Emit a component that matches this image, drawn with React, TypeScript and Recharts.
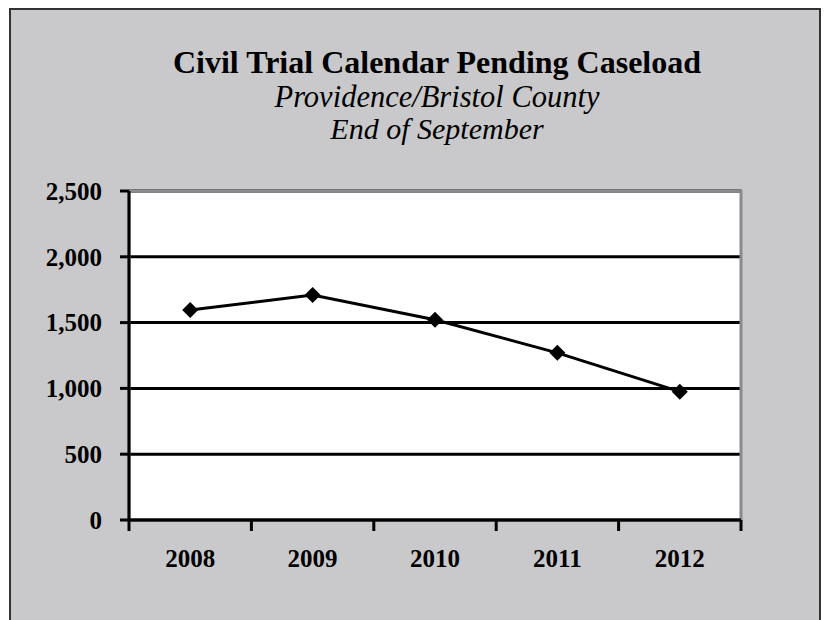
import React from 'react';
import { LineChart, Line, XAxis, YAxis, CartesianGrid, ReferenceArea } from 'recharts';

const years = ['2008', '2009', '2010', '2011', '2012'];
const caseload = [1596, 1710, 1522, 1270, 975];
const yTicks = [0, 500, 1000, 1500, 2000, 2500];

const data = years.map((year, i) => ({ year, value: caseload[i] }));

const font = '"Liberation Serif", "Times New Roman", serif';
const X_TICK = 11;

function Diamond(props: any) {
  const { cx, cy } = props;
  if (cx == null || cy == null) return null;
  const r = 8;
  return (
    <polygon
      points={`${cx},${cy - r} ${cx + r},${cy} ${cx},${cy + r} ${cx - r},${cy}`}
      fill="#000"
      stroke="none"
    />
  );
}

// category labels in the middle of each band, tick marks on the band edges (Excel style)
function YearTick(props: any) {
  const { x, y, payload, width, visibleTicksCount } = props;
  const half = width / visibleTicksCount / 2;
  const last = payload.index === visibleTicksCount - 1;
  return (
    <g>
      <line x1={x - half} x2={x - half} y1={y - X_TICK} y2={y} stroke="#000" strokeWidth={3} />
      {last && <line x1={x + half} x2={x + half} y1={y - X_TICK} y2={y} stroke="#000" strokeWidth={3} />}
      <text x={x} y={y + 18} dy="0.71em" textAnchor="middle" fill="#000" fontSize={25} fontWeight="bold" fontFamily={font}>
        {payload.value}
      </text>
    </g>
  );
}

export default function App() {
  return (
    <div style={{ position: 'absolute', left: 0, top: 0, width: 824, height: 620, overflow: 'hidden', background: '#fff' }}>
      <div
        style={{
          position: 'absolute',
          left: 9,
          top: 8,
          width: 808,
          height: 620,
          background: '#c9c9cb',
          borderTop: '2px solid #333',
          borderLeft: '2px solid #333',
          borderRight: '2px solid #333',
        }}
      />
      <div style={{ position: 'absolute', left: 0, top: 0 }}>
        <LineChart width={824} height={620} data={data} margin={{ top: 191, right: 83, bottom: 49, left: 59 }}>
          <CartesianGrid vertical={false} stroke="#000" strokeWidth={3} fill="#fff" fillOpacity={1} />
          <ReferenceArea y1={0} y2={2500} fill="none" stroke="#8a8a8a" strokeWidth={3} ifOverflow="visible" />
          <XAxis
            dataKey="year"
            scale="band"
            height={51}
            interval={0}
            tickSize={X_TICK}
            tickMargin={0}
            axisLine={{ stroke: '#000', strokeWidth: 3 }}
            tickLine={false}
            tick={<YearTick />}
          />
          <YAxis
            domain={[0, 2500]}
            ticks={yTicks}
            width={70}
            tickSize={9}
            tickMargin={18}
            interval={0}
            tickFormatter={(v: number) => v.toLocaleString('en-US')}
            axisLine={{ stroke: '#000', strokeWidth: 3 }}
            tickLine={{ stroke: '#000', strokeWidth: 3 }}
            tick={{ fill: '#000', fontSize: 25, fontWeight: 'bold', fontFamily: font }}
          />
          <Line
            type="linear"
            dataKey="value"
            stroke="#000"
            strokeWidth={3}
            dot={<Diamond />}
            activeDot={false}
            isAnimationActive={false}
          />
        </LineChart>
      </div>
      <div style={{ position: 'absolute', left: 0, width: 874, top: 46, textAlign: 'center', fontFamily: font, fontSize: 32, fontWeight: 'bold', lineHeight: '32px', color: '#000', whiteSpace: 'nowrap' }}>
        Civil Trial Calendar Pending Caseload
      </div>
      <div style={{ position: 'absolute', left: 0, width: 874, top: 82, textAlign: 'center', fontFamily: font, fontSize: 30.5, fontStyle: 'italic', lineHeight: '30px', color: '#000', whiteSpace: 'nowrap' }}>
        Providence/Bristol County
      </div>
      <div style={{ position: 'absolute', left: 0, width: 874, top: 114, textAlign: 'center', fontFamily: font, fontSize: 30, fontStyle: 'italic', lineHeight: '30px', color: '#000', whiteSpace: 'nowrap' }}>
        End of September
      </div>
    </div>
  );
}
